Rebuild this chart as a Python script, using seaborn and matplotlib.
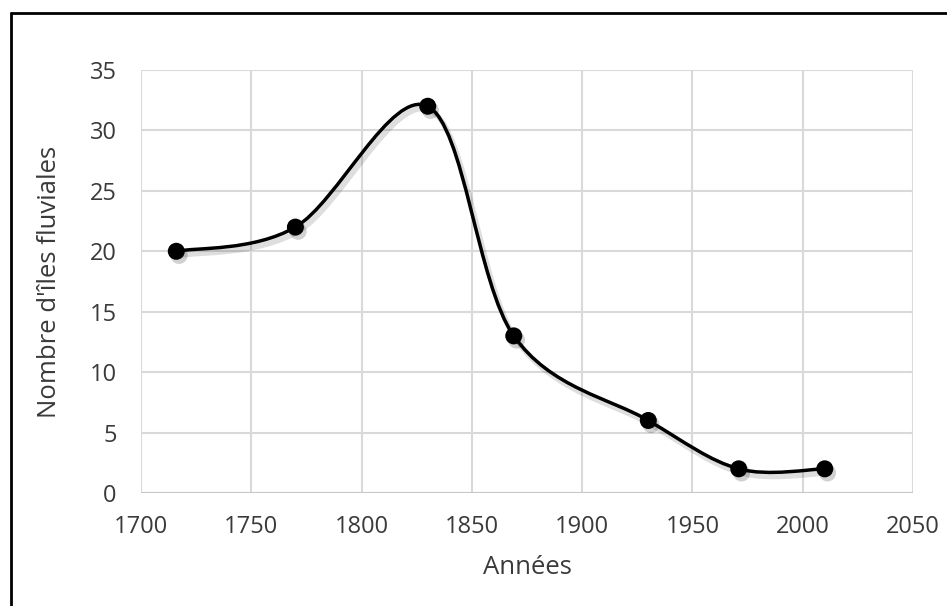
import numpy as np
import pandas as pd
import matplotlib
matplotlib.use("Agg")
import matplotlib.pyplot as plt
import matplotlib.patheffects as pe
from matplotlib.path import Path
from matplotlib.patches import PathPatch
from matplotlib.lines import Line2D
import seaborn as sns

# Number of river islands by survey year
years = [1716, 1770, 1830, 1869, 1930, 1971, 2010]
islands = [20, 22, 32, 13, 6, 2, 2]

x_ticks = [1700, 1750, 1800, 1850, 1900, 1950, 2000, 2050]
y_ticks = [0, 5, 10, 15, 20, 25, 30, 35]

df = pd.DataFrame({"Années": years, "Îles": islands})

sns.set_theme(style="whitegrid")
plt.rcParams["font.family"] = ["Open Sans", "DejaVu Sans"]

text_color = "#3a3a3a"
grid_color = "#d9d9d9"

fig = plt.figure(figsize=(9.47, 6.06), dpi=100)
ax = fig.add_axes([141 / 947, 1 - 493 / 606, 772 / 947, 423 / 606])
ax.set_facecolor("white")

ax.set_xlim(1700, 2050)
ax.set_ylim(0, 35)
ax.set_xticks(x_ticks)
ax.set_yticks(y_ticks)
ax.grid(True, color=grid_color, linewidth=1.5)
for s in ax.spines.values():
    s.set_visible(False)
ax.tick_params(axis="both", which="major", length=6.5, width=1.5,
               color=grid_color, labelcolor=text_color, labelsize=17)
ax.tick_params(axis="y", pad=11)
ax.tick_params(axis="x", pad=9)
ax.axhline(0, color="#c8c8c8", linewidth=1.5, zorder=1)

# Smoothed curve through the points (Catmull-Rom style Bezier in display space)
pts = ax.transData.transform(np.column_stack([df["Années"], df["Îles"]]).astype(float))
n = len(pts)
verts = [pts[0]]
codes = [Path.MOVETO]
for i in range(n - 1):
    p_prev = pts[max(i - 1, 0)]
    p0 = pts[i]
    p1 = pts[i + 1]
    p_next = pts[min(i + 2, n - 1)]
    c1 = p0 + (p1 - p_prev) / 6.0
    c2 = p1 - (p_next - p0) / 6.0
    verts += [c1, c2, p1]
    codes += [Path.CURVE4] * 3
verts_data = ax.transData.inverted().transform(np.array(verts))
curve = PathPatch(Path(verts_data, codes), fill=False, edgecolor="black",
                  linewidth=2.5, zorder=3, capstyle="round", joinstyle="round")
curve.set_path_effects([pe.SimpleLineShadow(offset=(2, -3), shadow_color="black", alpha=0.13,
                                            linewidth=4),
                        pe.Normal()])
ax.add_patch(curve)

sns.scatterplot(data=df, x="Années", y="Îles", ax=ax, color="black", s=150,
                edgecolor="black", linewidth=0, zorder=4, legend=False)
ax.collections[-1].set_path_effects([pe.SimplePatchShadow(offset=(2, -3), shadow_rgbFace="black", alpha=0.18),
                                     pe.Normal()])
ax.set_xlabel("Années", fontsize=18.5, color=text_color, labelpad=12)
ax.set_ylabel("Nombre d'îles fluviales", fontsize=18.5, color=text_color, labelpad=20)

# Outer frame (top and left edges visible)
fig.add_artist(Line2D([11 / 947, 11 / 947], [0, 1 - 13 / 606], transform=fig.transFigure,
                      color="black", linewidth=2))
fig.add_artist(Line2D([11 / 947, 1], [1 - 13 / 606, 1 - 13 / 606], transform=fig.transFigure,
                      color="black", linewidth=2))

fig.savefig("out.png", dpi=100, facecolor="white")
